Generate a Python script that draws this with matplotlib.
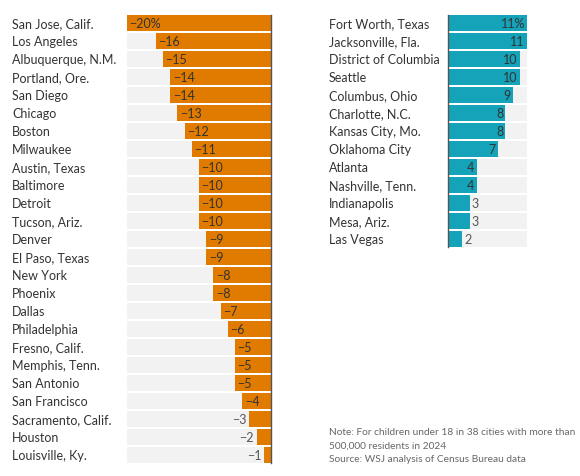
import matplotlib
matplotlib.use("Agg")
import matplotlib.pyplot as plt
from matplotlib import transforms

plt.rcParams['font.family'] = ['Lato', 'DejaVu Sans']

left_cities = ["San Jose, Calif.", "Los Angeles", "Albuquerque, N.M.", "Portland, Ore.",
               "San Diego", "Chicago", "Boston", "Milwaukee", "Austin, Texas", "Baltimore",
               "Detroit", "Tucson, Ariz.", "Denver", "El Paso, Texas", "New York", "Phoenix",
               "Dallas", "Philadelphia", "Fresno, Calif.", "Memphis, Tenn.", "San Antonio",
               "San Francisco", "Sacramento, Calif.", "Houston", "Louisville, Ky."]
left_values = [-20, -16, -15, -14, -14, -13, -12, -11, -10, -10, -10, -10, -9, -9,
               -8, -8, -7, -6, -5, -5, -5, -4, -3, -2, -1]

right_cities = ["Fort Worth, Texas", "Jacksonville, Fla.", "District of Columbia", "Seattle",
                "Columbus, Ohio", "Charlotte, N.C.", "Kansas City, Mo.", "Oklahoma City",
                "Atlanta", "Nashville, Tenn.", "Indianapolis", "Mesa, Ariz.", "Las Vegas"]
right_values = [11, 11, 10, 10, 9, 8, 8, 7, 4, 4, 3, 3, 2]

note_lines = ["Note: For children under 18 in 38 cities with more than",
              "500,000 residents in 2024",
              "Source: WSJ analysis of Census Bureau data"]

W, H = 580, 477
fig = plt.figure(figsize=(W / 100, H / 100), dpi=100)
fig.patch.set_facecolor('white')

ROW = 18
TOP = 15
ORANGE = '#e07b00'
TEAL = '#14a3b8'
TRACK = '#f2f2f2'
TXT = '#333333'
GRAY = '#555555'
FS = 9


def add_axes_px(x0, x1, nrows):
    top = TOP
    bottom = TOP + nrows * ROW
    return fig.add_axes([x0 / W, 1 - bottom / H, (x1 - x0) / W, (bottom - top) / H])


def fmt(v, first):
    s = str(abs(v))
    if v < 0:
        s = '\u2212' + s
    if first:
        s += '%'
    return s


# Left panel
axL = add_axes_px(127, 271, len(left_cities))
n = len(left_cities)
ys = list(range(n))
axL.barh(ys, [-20] * n, height=0.86, color=TRACK, zorder=1)
axL.barh(ys, left_values, height=0.86, color=ORANGE, zorder=2)
axL.set_xlim(-20, 0)
axL.set_ylim(n - 0.5, -0.5)
axL.axis('off')
axL.plot([0, 0], [-0.45, n - 0.55], color=GRAY, lw=1.0, zorder=3, clip_on=False)
trL = transforms.blended_transform_factory(fig.transFigure, axL.transData)
for i, (c, v) in enumerate(zip(left_cities, left_values)):
    fig.text(12 / W, i, c, transform=trL, ha='left', va='center', fontsize=FS, color=TXT)
    if v <= -4:
        axL.text(v + 0.35, i, fmt(v, i == 0), ha='left', va='center', fontsize=FS,
                 color=TXT, zorder=4)
    else:
        axL.text(v - 0.35, i, fmt(v, i == 0), ha='right', va='center', fontsize=FS,
                 color=GRAY, zorder=4)

# Right panel
axR = add_axes_px(448, 527, len(right_cities))
m = len(right_cities)
ys = list(range(m))
axR.barh(ys, [11] * m, height=0.86, color=TRACK, zorder=1)
axR.barh(ys, right_values, height=0.86, color=TEAL, zorder=2)
axR.set_xlim(0, 11)
axR.set_ylim(m - 0.5, -0.5)
axR.axis('off')
axR.plot([0, 0], [-0.45, m - 0.55], color=GRAY, lw=1.0, zorder=3, clip_on=False)
trR = transforms.blended_transform_factory(fig.transFigure, axR.transData)
for i, (c, v) in enumerate(zip(right_cities, right_values)):
    fig.text(329 / W, i, c, transform=trR, ha='left', va='center', fontsize=FS, color=TXT)
    if v >= 4:
        axR.text(v - 0.3, i, fmt(v, i == 0), ha='right', va='center', fontsize=FS,
                 color=TXT, zorder=4)
    else:
        axR.text(v + 0.3, i, fmt(v, i == 0), ha='left', va='center', fontsize=FS,
                 color=GRAY, zorder=4)

for k, line in enumerate(note_lines):
    fig.text(329 / W, 1 - (433 + 13.5 * k) / H, line, ha='left', va='center',
             fontsize=7.3, color='#666666')

fig.savefig('out.png', dpi=100, facecolor='white')
